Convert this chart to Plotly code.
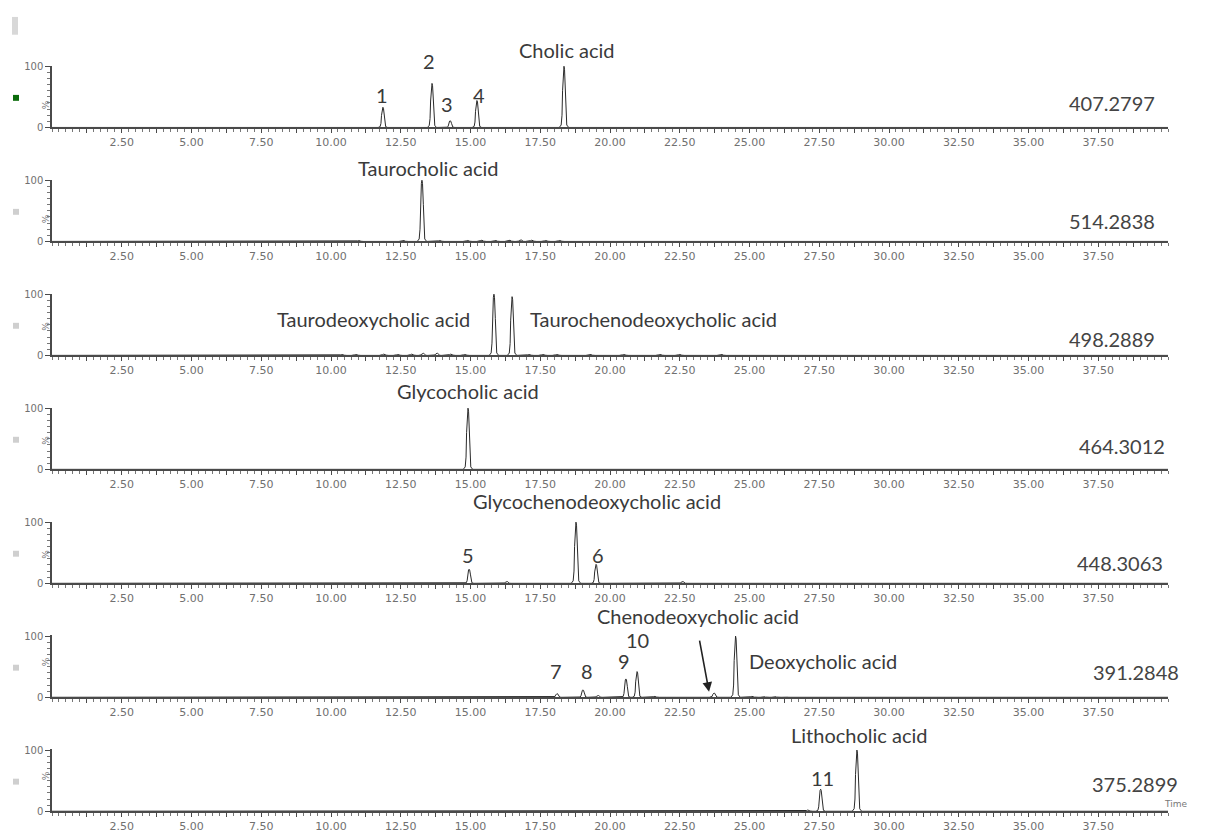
import plotly.graph_objects as go

# ---------------- data ----------------
mz_labels = ["407.2797", "514.2838", "498.2889", "464.3012", "448.3063", "391.2848", "375.2899"]

tick_labels = ["2.50", "5.00", "7.50", "10.00", "12.50", "15.00", "17.50", "20.00",
               "22.50", "25.00", "27.50", "30.00", "32.50", "35.00", "37.50"]
tick_values = [2.5, 5.0, 7.5, 10.0, 12.5, 15.0, 17.5, 20.0, 22.5, 25.0, 27.5, 30.0, 32.5, 35.0, 37.5]

# retention times (min) and relative intensities (%) per trace
rt_407 = [11.86, 13.62, 14.27, 15.23, 18.35]
int_407 = [33, 72, 11, 44, 100]

rt_514 = [10.6, 11.0, 11.5, 12.1, 12.6, 13.26, 13.9, 14.4, 14.9, 15.4, 15.9, 16.4, 16.8, 17.2, 17.7, 18.2, 18.7]
int_514 = [1.0, 1.5, 1.0, 1.0, 1.5, 100, 1.5, 1.0, 1.5, 2.0, 1.5, 2.0, 2.5, 2.0, 1.5, 1.5, 1.0]

rt_498 = [9.9, 10.4, 10.9, 11.4, 11.9, 12.4, 12.9, 13.3, 13.8, 14.3, 14.8, 15.84, 16.49,
          17.1, 17.6, 18.1, 18.7, 19.3, 19.9, 20.5, 21.1, 21.8, 22.5, 23.2, 24.0, 24.8]
int_498 = [1.0, 1.5, 1.5, 1.0, 2.0, 1.5, 2.0, 3.5, 3.5, 2.0, 1.5, 100, 96,
           1.5, 1.5, 1.5, 1.0, 1.5, 1.0, 1.5, 1.0, 1.5, 1.5, 1.0, 1.5, 1.0]

rt_464 = [14.91]
int_464 = [100]

rt_448 = [14.95, 16.3, 18.78, 19.5, 22.6]
int_448 = [23, 3, 100, 31, 3]

rt_391 = [18.1, 19.03, 19.57, 20.57, 20.97, 21.6, 22.2, 23.73, 24.5, 25.1, 25.5, 25.9, 26.3]
int_391 = [6, 12, 3, 30, 42, 1.5, 1, 7, 100, 1.5, 1.5, 1.5, 1]

rt_375 = [27.1, 27.55, 28.85]
int_375 = [2, 36, 100]

traces_rt = [rt_407, rt_514, rt_498, rt_464, rt_448, rt_391, rt_375]
traces_int = [int_407, int_514, int_498, int_464, int_448, int_391, int_375]

# peak labels: panel index, text, time (min), height (% of panel scale), x-anchor
label_panel = [0, 0, 0, 0, 0, 1, 2, 2, 3, 4, 4, 4, 5, 5, 5, 5, 5, 5, 6, 6]
label_text = ["1", "2", "3", "4", "Cholic acid", "Taurocholic acid",
              "Taurodeoxycholic acid", "Taurochenodeoxycholic acid", "Glycocholic acid",
              "Glycochenodeoxycholic acid", "5", "6",
              "Chenodeoxycholic acid", "10", "9", "7", "8", "Deoxycholic acid",
              "11", "Lithocholic acid"]
label_time = [11.83, 13.51, 14.16, 15.3, 18.46, 13.51,
              15.05, 17.06, 14.91,
              19.53, 14.91, 19.57,
              23.15, 21.0, 20.5, 18.06, 19.18, 24.91,
              27.6, 28.92]
label_pct = [53, 108, 39, 53, 127, 120,
             60, 60, 128,
             135, 47, 47,
             133, 94, 59, 43, 43, 59,
             55, 124]
label_anchor = ["center", "center", "center", "center", "center", "center",
                "right", "left", "center",
                "center", "center", "center",
                "center", "center", "center", "center", "center", "left",
                "center", "center"]

# ---------------- styling / geometry ----------------
OFF = 8                              # page body margin of the html page
W, H = 1206 - OFF, 836 - OFF         # figure size so the page fits the window
X_LEFT, X_RIGHT = 52, 1168           # target pixel extent of time axis
T_MIN, T_MAX = 0.0, 40.0
BASE0, PITCH, PX_PER_PCT = 124.0, 115.5, 0.62
Y_TOP = 101.0
# m/z label placement (right edge in px, height in % of panel)
MZ_RIGHT = [1157, 1157, 1157, 1167, 1165, 1181, 1180]
MZ_PCT = [40, 33, 27, 38, 34, 41, 44]
# narrow peak outline template (min offset, fraction of height)
shape_dx = [-0.17, -0.10, -0.07, -0.05, -0.02, 0.0, 0.02, 0.05, 0.07, 0.10, 0.17]
shape_fy = [0, 0.04, 0.2, 0.6, 0.95, 1.0, 0.95, 0.6, 0.2, 0.04, 0]

TXT = "#3a3a3a"
AX = "#4a4a4a"
TICKFONT = dict(family="DejaVu Sans", size=11, color="#707070")
LABFONT = dict(family="Lato", size=20, color=TXT)


def px_x(px):
    return (px - OFF) / W


def px_y(py):
    return 1 - (py - OFF) / H


def base_px(k):
    return BASE0 + PITCH * k


def pct_to_paper(k, pct):
    # same linear scale as the panel's y axis (0..Y_TOP over its domain)
    return px_y(base_px(k) - PX_PER_PCT * pct)


fig = go.Figure()
layout = dict(width=W, height=H, margin=dict(l=0, r=0, t=0, b=0),
              paper_bgcolor="white", plot_bgcolor="white", showlegend=False)

annotations = []
shapes = []

xdom = [px_x(X_LEFT), px_x(X_RIGHT)]
x_tickvals, x_ticktext = [], []
for i in range(1, 32):
    v = 1.25 * i
    x_tickvals.append(v)
    x_ticktext.append(tick_labels[tick_values.index(v)] if v in tick_values else "")

for k in range(7):
    y0 = base_px(k)
    ydom = [pct_to_paper(k, 0), pct_to_paper(k, Y_TOP)]
    sx = "" if k == 0 else str(k + 1)
    xa, ya = "x" + sx, "y" + sx

    xs, ys = [T_MIN], [0.0]
    for rt, h in zip(traces_rt[k], traces_int[k]):
        for dx, fy in zip(shape_dx, shape_fy):
            xs.append(rt + dx)
            ys.append(h * fy)
    xs.append(T_MAX)
    ys.append(0.0)
    fig.add_trace(go.Scatter(x=xs, y=ys, mode="lines", xaxis=xa, yaxis=ya,
                             line=dict(color="#2a2a2a", width=1), hoverinfo="skip"))

    layout["xaxis" + sx] = dict(domain=xdom, range=[T_MIN, T_MAX], anchor=ya,
                                showline=True, linecolor=AX, linewidth=1.5,
                                showgrid=False, zeroline=False,
                                tickmode="array", tickvals=x_tickvals, ticktext=x_ticktext,
                                ticks="outside", ticklen=4, tickwidth=1, tickcolor=AX,
                                tickfont=TICKFONT,
                                minor=dict(dtick=0.25, tick0=0, ticks="outside", ticklen=2.5,
                                           tickwidth=1, tickcolor="#777"))
    layout["yaxis" + sx] = dict(domain=ydom, range=[0, Y_TOP], anchor=xa,
                                showline=True, linecolor=AX, linewidth=1.5,
                                showgrid=False, zeroline=False,
                                tickmode="array", tickvals=[0, 100], ticktext=["0", "100"],
                                ticks="outside", ticklen=5, tickwidth=1, tickcolor=AX,
                                tickfont=dict(family="DejaVu Sans", size=10, color="#707070"),
                                minor=dict(dtick=10, tick0=0, ticks="outside", ticklen=3,
                                           tickwidth=1, tickcolor="#777"))

    # m/z label at right
    annotations.append(dict(x=px_x(MZ_RIGHT[k]), y=pct_to_paper(k, MZ_PCT[k]),
                            xref="paper", yref="paper",
                            text=mz_labels[k], showarrow=False,
                            xanchor="right", yanchor="middle",
                            font=dict(family="Lato", size=20, color="#444")))
    # "%" axis title
    annotations.append(dict(x=px_x(39), y=px_y(y0 - 29), xref="paper", yref="paper",
                            text="%", showarrow=False, textangle=-90,
                            font=dict(family="DejaVu Sans", size=9, color="#777")))
    # small channel marker square
    cy = y0 - 30
    shapes.append(dict(type="rect", xref="paper", yref="paper",
                       x0=px_x(13), x1=px_x(19), y0=px_y(cy + 3), y1=px_y(cy - 3),
                       fillcolor="#0b6b0b" if k == 0 else "#cfcfcf", line=dict(width=0)))

# peak labels
for p, t, x, pct, anc in zip(label_panel, label_text, label_time, label_pct, label_anchor):
    sx = "" if p == 0 else str(p + 1)
    annotations.append(dict(x=x, y=pct_to_paper(p, pct), xref="x" + sx, yref="paper",
                            text=t, showarrow=False, xanchor=anc, yanchor="middle",
                            font=LABFONT))

# arrow pointing to chenodeoxycholic acid peak
annotations.append(dict(x=23.55, y=9, xref="x6", yref="y6", ax=23.2, ay=95,
                        axref="x6", ayref="y6", text="", showarrow=True,
                        arrowhead=2, arrowsize=1.2, arrowwidth=1.6, arrowcolor="#222"))

# "Time" axis label
annotations.append(dict(x=px_x(1189), y=px_y(817), xref="paper", yref="paper", text="Time",
                        showarrow=False, font=dict(family="DejaVu Sans", size=9, color="#777")))

# grey bar at top-left
shapes.append(dict(type="rect", xref="paper", yref="paper", x0=px_x(12), x1=px_x(18),
                   y0=px_y(30), y1=px_y(12), fillcolor="#d8d8d8", line=dict(width=0)))

layout["annotations"] = annotations
layout["shapes"] = shapes
fig.update_layout(**layout)
fig.write_html("out.html")
